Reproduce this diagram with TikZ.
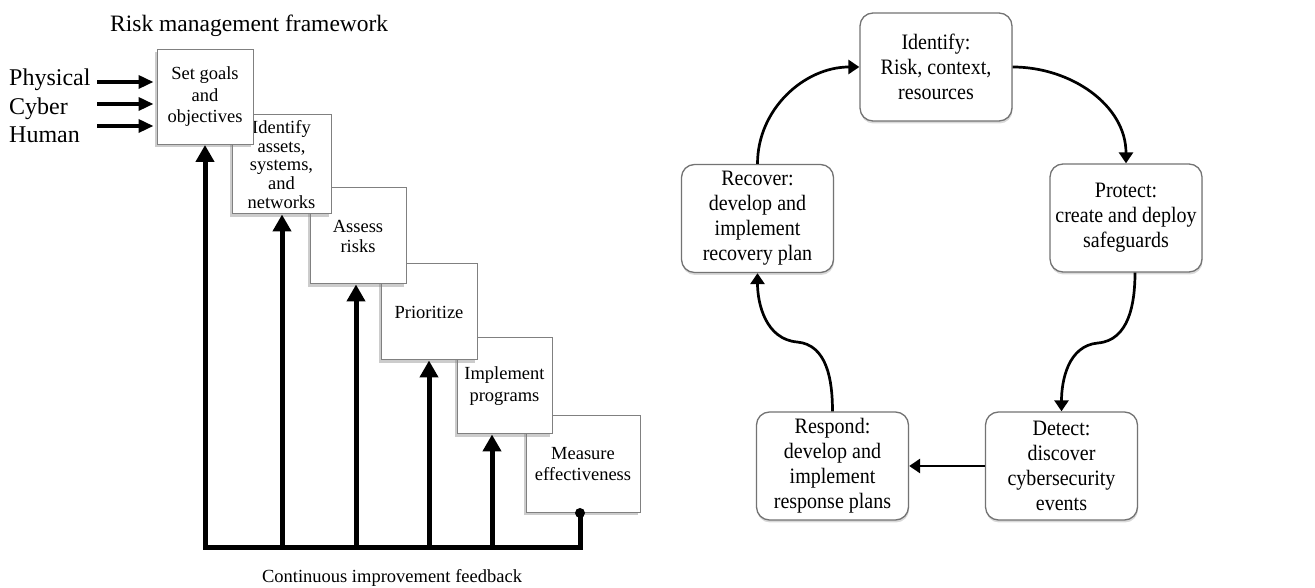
\documentclass[tikz,border=0pt]{standalone}
\usepackage{fontspec}
\setmainfont{Liberation Serif}
\newfontfamily\rfont[FakeStretch=0.91]{Liberation Serif}
\usetikzlibrary{arrows.meta,shadows,calc}
\tikzset{
  lbox/.style={draw=black!50, line width=1pt, fill=white, align=center, inner sep=1pt,
    font=\fontsize{18.5}{21.5}\selectfont,
    drop shadow={shadow xshift=-2pt, shadow yshift=-3pt, opacity=0.4}},
  rbox/.style={draw=black!55, line width=1.3pt, fill=white, rounded corners=13pt,
    minimum width=152pt, minimum height=108pt, align=center, inner sep=1pt,
    font=\rfont\fontsize{22}{25}\selectfont,
    drop shadow={shadow xshift=0.5pt, shadow yshift=-2.5pt, opacity=0.3}},
  fbarrow/.style={line width=5pt, -{Triangle[length=17pt,width=18pt]}},
  inarrow/.style={line width=3.5pt, -{Triangle[length=15pt,width=13pt]}, shorten >=3pt},
  rarrow/.style={line width=2.7pt, -{Triangle[length=11pt,width=14pt]}},
  lbl/.style={inner sep=0pt, anchor=base west}
}
\begin{document}
\begin{tikzpicture}[x=1pt,y=1pt]
\useasboundingbox (0,0) rectangle (1315,588);

% ---------- left: risk management framework ----------
\node[lbl, font=\fontsize{23.5}{26}\selectfont] (title) at (110,556) {Risk management framework};

\node[lbox, minimum width=114pt, minimum height=97pt] (box6) at (583,124) {Measure\\effectiveness};
\node[lbox, minimum width=95pt, minimum height=96pt] (box5) at (504.5,202) {Implement\\programs};
\node[lbox, minimum width=96pt, minimum height=96pt] (box4) at (429,276) {Prioritize};
\node[lbox, minimum width=96pt, minimum height=96pt, font=\fontsize{18.5}{20}\selectfont] (box3) at (358,352) {Assess\\risks};
\node[lbox, minimum width=99pt, minimum height=99pt, font=\fontsize{18.5}{18.7}\selectfont] (box2) at (281.5,423.5) {Identify\\assets,\\systems,\\and\\networks};
\node[lbox, minimum width=96pt, minimum height=95pt] (box1) at (205,491) {Set goals\\and\\objectives};

\node[lbl, font=\fontsize{24}{28}\selectfont] (phys) at (9,502) {Physical};
\node[lbl, font=\fontsize{24}{28}\selectfont] (cyber) at (9,473.5) {Cyber};
\node[lbl, font=\fontsize{24}{28}\selectfont] (human) at (9,445) {Human};

\coordinate (i1) at (97,506);
\coordinate (i2) at (97,484);
\coordinate (i3) at (97,462);
\draw[inarrow] (i1) -- (i1 -| box1.west);
\draw[inarrow] (i2) -- (i2 -| box1.west);
\draw[inarrow] (i3) -- (i3 -| box1.west);

\coordinate (f1) at (205,40);
\coordinate (f2) at (282,40);
\coordinate (f3) at (356,40);
\coordinate (f4) at (429,40);
\coordinate (f5) at (492,40);
\coordinate (f6) at (580,40);
\coordinate (m6) at (f6 |- box6.south);

\draw[line width=5pt, line join=miter, {Triangle[length=17pt,width=18pt]}-]
  (box1.south) -- (f1) -- (f6) -- (m6);
\fill (m6) circle (5pt);
\draw[fbarrow] (f2) -- (f2 |- box2.south);
\draw[fbarrow] (f3) -- (f3 |- box3.south);
\draw[fbarrow] (f4) -- (f4 |- box4.south);
\draw[fbarrow] (f5) -- (f5 |- box5.south);

\node[inner sep=0pt, anchor=base, font=\fontsize{18.5}{21}\selectfont] (fb) at (392,5.5) {Continuous improvement feedback};

% ---------- right: cycle ----------
\node[rbox] (identify) at (936,521) {Identify:\\Risk, context,\\resources};
\node[rbox] (protect) at (1126,370) {Protect:\\create and deploy\\safeguards};
\node[rbox] (detect) at (1061.5,122) {Detect:\\discover\\cybersecurity\\events};
\node[rbox] (respond) at (832.5,122) {Respond:\\develop and\\implement\\response plans};
\node[rbox] (recover) at (757.5,369.5) {Recover:\\develop and\\implement\\recovery plan};

\coordinate (c1) at (1098,245);
\coordinate (c2) at (797,246);

\draw[rarrow] (identify.east) to[out=0,in=90] (protect.north);
\draw[rarrow] ($(protect.south)+(9,0)$) to[out=-90,in=5] (c1) to[out=185,in=90] (detect.north);
\draw[rarrow] (detect.west) -- (respond.east);
\draw[rarrow] (respond.north) to[out=90,in=-5] (c2) to[out=175,in=-90] (recover.south);
\draw[rarrow] (recover.north) to[out=90,in=180] (identify.west);
\end{tikzpicture}
\end{document}
